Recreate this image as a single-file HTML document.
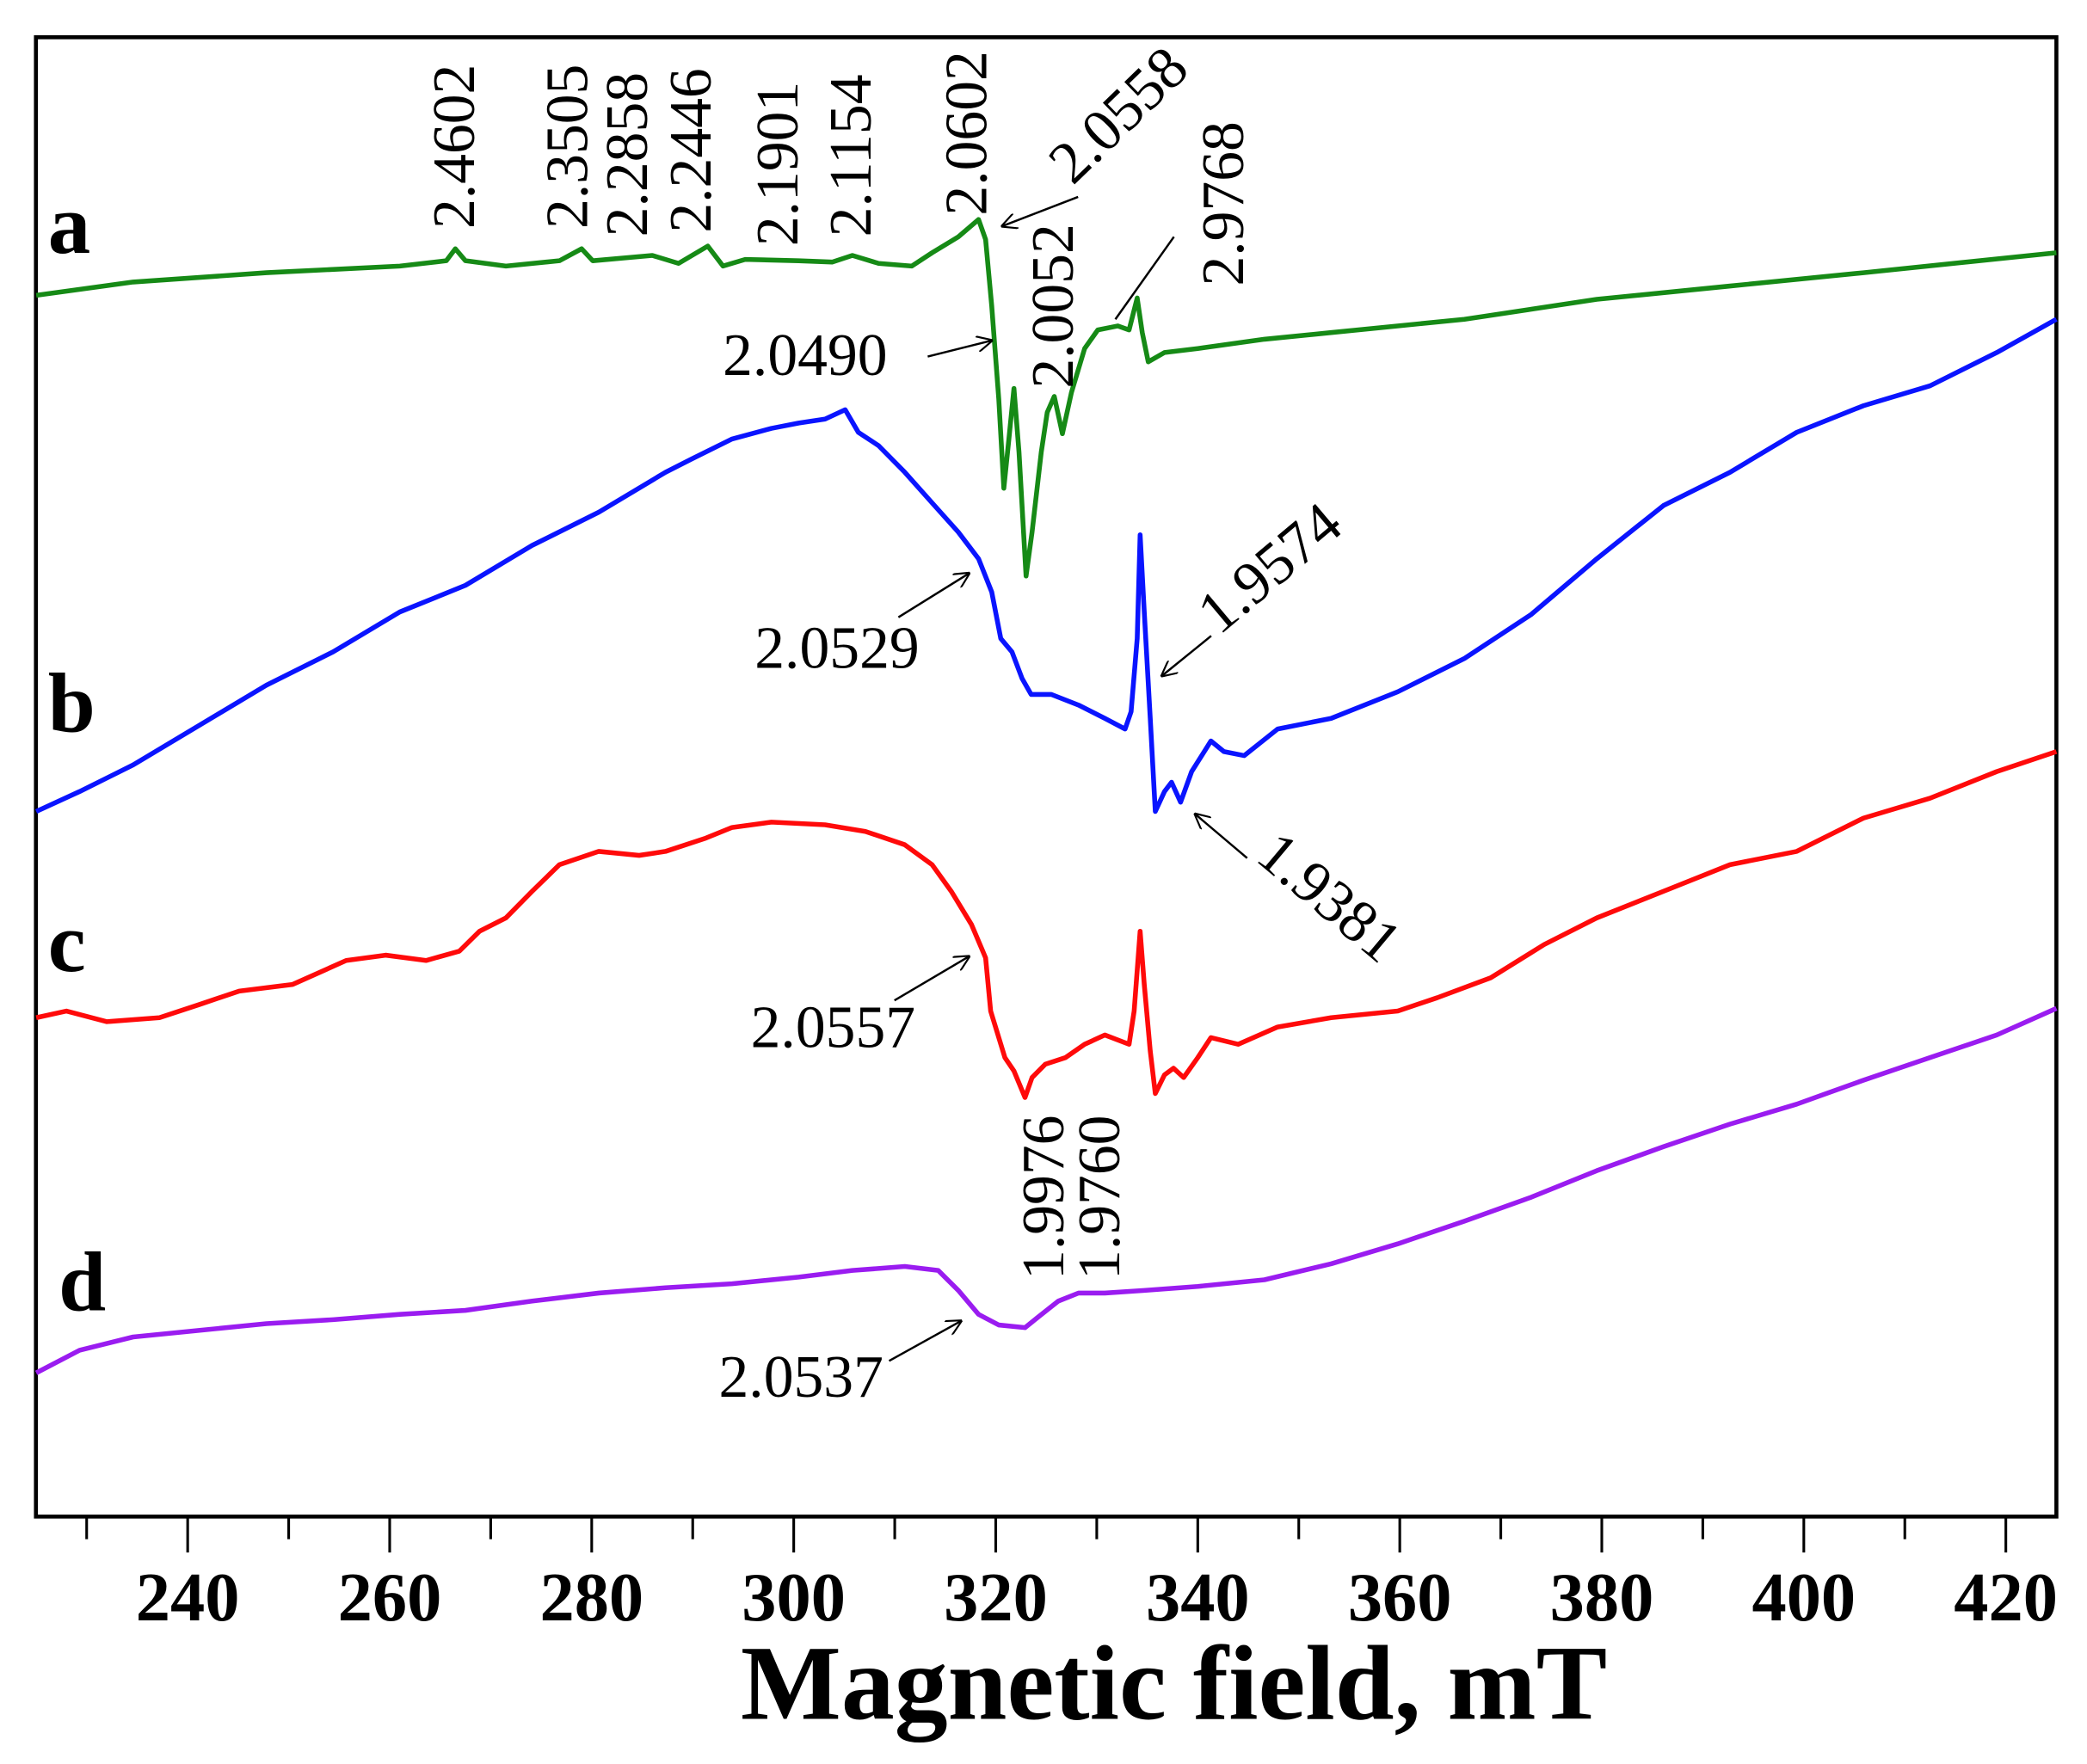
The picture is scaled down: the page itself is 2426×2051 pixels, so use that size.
<!DOCTYPE html>
<html><head><meta charset="utf-8"><style>
html,body{margin:0;padding:0;background:#fff;}
svg{display:block;}
text{font-family:"Liberation Serif",serif;}
</style></head><body>
<svg id="chart" width="2426" height="2051" viewBox="0 0 1568 1326" preserveAspectRatio="none" xmlns="http://www.w3.org/2000/svg">
<defs><marker id="ah" markerWidth="12" markerHeight="12" refX="11" refY="6" orient="auto" markerUnits="userSpaceOnUse"><path d="M0,0 L12,6 L0,12" fill="none" stroke="#000" stroke-width="1.4"/></marker></defs>
<rect x="27" y="28" width="1518" height="1112" fill="none" stroke="#000" stroke-width="3"/>
<g id="ticks"></g>
<g id="series"></g>
<text x="882" y="1292" text-anchor="middle" font-size="80" font-weight="bold">Magnetic field, mT</text>
<g font-size="64" font-weight="bold">
<text x="36" y="190">a</text>
<text x="36" y="550">b</text>
<text x="36" y="730">c</text>
<text x="44" y="985">d</text>
</g>
<g font-size="45" fill="#000">
<text transform="translate(356,172) rotate(-90)">2.4602</text>
<text transform="translate(441,172) rotate(-90)">2.3505</text>
<text transform="translate(486,178) rotate(-90)">2.2858</text>
<text transform="translate(534,175) rotate(-90)">2.2446</text>
<text transform="translate(599,185) rotate(-90)">2.1901</text>
<text transform="translate(654,178) rotate(-90)">2.1154</text>
<text transform="translate(741,162) rotate(-90)">2.0602</text>
<text transform="translate(806,292) rotate(-90)">2.0052</text>
<text transform="translate(934,215) rotate(-90)">2.9768</text>
<text transform="translate(806,140) rotate(-44)">2.0558</text>
<text transform="translate(916,478) rotate(-40)">1.9574</text>
<text transform="translate(942,646) rotate(40)">1.9381</text>
<text transform="translate(799,962) rotate(-90)">1.9976</text>
<text transform="translate(841,962) rotate(-90)">1.9760</text>
<text x="543" y="282">2.0490</text>
<text x="567" y="502">2.0529</text>
<text x="564" y="787">2.0557</text>
<text x="540" y="1050">2.0537</text>
</g>
<g stroke="#000" stroke-width="1.6" fill="none">
<line x1="810" y1="148" x2="753" y2="170" marker-end="url(#ah)"/>
<line x1="697" y1="268" x2="745" y2="256" marker-end="url(#ah)"/>
<line x1="882" y1="178" x2="838" y2="240"/>
<line x1="675" y1="464" x2="728" y2="431" marker-end="url(#ah)"/>
<line x1="910" y1="478" x2="873" y2="508" marker-end="url(#ah)"/>
<line x1="937" y1="645" x2="898" y2="612" marker-end="url(#ah)"/>
<line x1="672" y1="752" x2="728" y2="719" marker-end="url(#ah)"/>
<line x1="668" y1="1023" x2="722" y2="993" marker-end="url(#ah)"/>
</g>
</svg>
<script>
const tickValues = [240,260,280,300,320,340,360,380,400,420];
const minorTicks = [230,250,270,290,310,330,350,370,390,410];
const fieldA = [225.0,234.6,247.8,261.0,265.6,266.5,267.5,271.5,276.8,279.0,280.1,286.0,288.6,291.5,293.0,295.2,300.5,303.8,305.8,308.4,311.7,313.7,316.3,318.3,319.0,319.6,320.3,320.8,321.3,321.8,322.3,323.0,323.6,324.5,325.1,325.8,326.6,327.5,328.8,330.1,332.1,333.2,334.0,334.5,335.1,336.7,340.0,346.6,353.2,366.4,379.5,392.7,405.9,425.0];
const sigA = [918,928,935,940,944,953,944,940,944,953,944,948,942,955,940,945,944,943,948,942,940,950,962,975,960,910,840,773,810,848,800,707,740,800,830,842,814,845,878,892,895,892,916,890,868,875,878,885,890,900,915,925,935,950];
const fieldB = [225.0,229.3,234.6,241.2,247.8,254.4,261.0,267.5,274.1,280.7,287.3,289.9,293.9,297.8,300.5,303.1,305.1,306.4,308.4,311.0,313.7,316.3,318.3,319.6,320.5,321.6,322.6,323.5,325.5,328.2,330.8,332.8,333.4,334.0,334.3,334.7,335.3,335.8,336.7,337.4,338.3,339.4,341.3,342.6,344.6,347.9,353.2,359.8,366.4,373.0,379.5,386.1,392.7,399.3,405.9,412.5,419.1,425.0];
const sigB = [530,545,565,595,625,650,680,700,730,755,785,795,810,818,822,825,832,815,805,785,762,740,720,695,660,650,630,618,618,610,600,592,605,660,738,680,600,530,545,552,537,560,583,575,572,592,600,620,645,678,720,760,785,815,835,850,875,900];
const fieldC = [225.0,228.0,232.0,237.2,241.2,245.1,250.4,255.7,259.6,263.6,266.9,268.9,271.5,274.1,276.8,280.7,284.7,287.3,291.3,293.9,297.8,303.1,307.1,311.0,313.7,315.6,317.6,319.0,319.5,320.9,321.8,322.9,323.6,324.9,326.9,328.8,330.8,333.2,333.7,334.3,334.7,335.3,335.8,336.7,337.6,338.6,340.0,341.3,344.0,347.9,353.2,359.8,363.7,369.0,374.3,379.5,386.1,392.7,399.3,405.9,412.5,419.1,425.0];
const sigC = [375,380,372,375,385,395,400,418,422,418,425,440,450,470,490,500,497,500,510,518,522,520,515,505,490,470,445,420,380,345,335,315,330,340,345,355,362,355,380,440,400,350,318,332,337,330,345,360,355,368,375,380,390,405,430,450,470,490,500,525,540,560,575];
const fieldD = [225.0,229.3,234.6,241.2,247.8,254.4,261.0,267.5,274.1,280.7,287.3,293.9,300.5,305.8,311.0,314.3,316.3,318.3,320.3,322.9,324.2,326.2,328.2,330.8,334.7,340.0,346.6,353.2,359.8,366.4,373.0,379.5,386.1,392.7,399.3,405.9,412.5,419.1,425.0];
const sigD = [108,125,135,140,145,148,152,155,162,168,172,175,180,185,188,185,170,152,144,142,150,162,168,168,170,173,178,190,205,222,240,260,278,295,310,328,345,362,382];
const series = [
  {name:'spectrum-a', color:'#168a16', f:fieldA, s:sigA},
  {name:'spectrum-b', color:'#0a14ff', f:fieldB, s:sigB},
  {name:'spectrum-c', color:'#ff0a0a', f:fieldC, s:sigC},
  {name:'spectrum-d', color:'#9a1cf0', f:fieldD, s:sigD}
];
const NS='http://www.w3.org/2000/svg';
function xScale(v){return 141 + (v-240)*7.589;}
function yScale(v){return 1140 - v;}
const tg=document.getElementById('ticks');
tickValues.forEach(v=>{
  const l=document.createElementNS(NS,'line');
  l.setAttribute('x1',xScale(v));l.setAttribute('x2',xScale(v));
  l.setAttribute('y1',1140);l.setAttribute('y2',1167);
  l.setAttribute('stroke','#000');l.setAttribute('stroke-width','2');
  
  
  tg.appendChild(l);
  const t=document.createElementNS(NS,'text');
  t.setAttribute('x',xScale(v));t.setAttribute('y',1218);
  t.setAttribute('text-anchor','middle');t.setAttribute('font-size','52');t.setAttribute('font-weight','bold');
  t.textContent=v;
  
  
  tg.appendChild(t);
});
minorTicks.forEach(v=>{
  const l=document.createElementNS(NS,'line');
  l.setAttribute('x1',xScale(v));l.setAttribute('x2',xScale(v));
  l.setAttribute('y1',1140);l.setAttribute('y2',1157);
  l.setAttribute('stroke','#000');l.setAttribute('stroke-width','2');
  
  
  tg.appendChild(l);
});
const sg=document.getElementById('series');
series.forEach(sr=>{
  const p=document.createElementNS(NS,'path');
  let d='';
  sr.f.forEach((v,i)=>{d+=(i?'L':'M')+xScale(v).toFixed(1)+','+yScale(sr.s[i]).toFixed(1);});
  p.setAttribute('d',d);p.setAttribute('fill','none');p.setAttribute('stroke',sr.color);
  p.setAttribute('stroke-width','3.6');p.setAttribute('stroke-linejoin','round');
  
  
  sg.appendChild(p);
});
</script>
</body></html>
